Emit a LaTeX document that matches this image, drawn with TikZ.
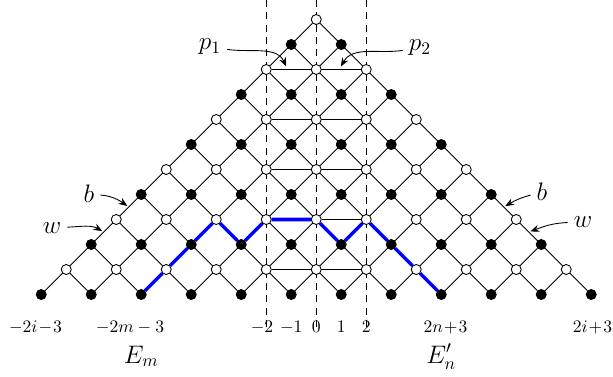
\documentclass[tikz,border=0pt]{standalone}
\usepackage{amsmath}
\usepackage{amssymb}
\usepackage{xcolor}
\usepackage{tikz}
\usetikzlibrary{arrows.meta, backgrounds}

\begin{document}
\begin{tikzpicture}[
  x=0.5cm, y=0.5cm,
  >={Stealth[length=5pt, width=4pt]},
  bdot/.style={circle, draw, line width=0.5pt, fill=black, inner sep=0pt, minimum size=2mm},
  wdot/.style={circle, draw, line width=0.5pt, fill=white, inner sep=0pt, minimum size=2mm},
  grid/.style={line width=0.5pt},
  guide/.style={dash pattern=on 4pt off 3pt, line width=0.5pt},
  bluepath/.style={blue, line width=2pt},
  pointer/.style={->, line width=0.5pt, shorten >=1pt},
  tag/.style={font=\Large},
  num/.style={anchor=base, font=\normalsize},
]

  \useasboundingbox (-12.65,-3.26) rectangle (11.87,11.78);

  % lattice points, row r has |k| <= 11-r
  \foreach \r in {0,...,11} {
    \pgfmathtruncatemacro\m{11-\r}
    \foreach \j in {0,...,\m} {
      \pgfmathtruncatemacro\k{2*\j-\m}
      \pgfmathtruncatemacro\c{\k+11}
      \ifodd\r
        \node[wdot] (n\c-\r) at (\k,\r) {};
      \else
        \node[bdot] (n\c-\r) at (\k,\r) {};
      \fi
    }
  }

  \begin{scope}[on background layer]
    \foreach \k in {-11,-9,...,9} {
      \pgfmathtruncatemacro\c{\k+11}
      \pgfmathtruncatemacro\ce{(\k+11)/2+11}
      \pgfmathtruncatemacro\re{(11-\k)/2}
      \draw[grid] (n\c-0) -- (n\ce-\re);
    }
    \foreach \k in {-9,-7,...,11} {
      \pgfmathtruncatemacro\c{\k+11}
      \pgfmathtruncatemacro\ce{(\k-11)/2+11}
      \pgfmathtruncatemacro\re{(\k+11)/2}
      \draw[grid] (n\c-0) -- (n\ce-\re);
    }
    \foreach \r in {1,5,7,9}
      \draw[grid] (n9-\r) -- (n13-\r);
    \draw[grid] (n11-3) -- (n13-3);
    \foreach \k in {-2,0,2}
      \draw[guide] (\k,11.78) -- (\k,-1.46);
  \end{scope}

  \draw[bluepath] (n4-0) -- (n5-1) -- (n6-2) -- (n7-3) -- (n8-2) -- (n9-3)
    -- (n11-3) -- (n12-2) -- (n13-3) -- (n14-2) -- (n15-1) -- (n16-0);

  \node[tag] (p1) at (-4.25,9.9) {$p_1$};
  \node[tag] (p2) at (4.15,9.86) {$p_2$};
  \node[tag] (bl) at (-9.09,4.02) {$b$};
  \node[tag] (wl) at (-10.57,2.66) {$w$};
  \node[tag] (br) at (9.03,4.1) {$b$};
  \node[tag] (wr) at (10.67,2.9) {$w$};
  \coordinate (p1t) at (-1.17,9.06);
  \coordinate (p2t) at (0.95,9.06);
  \coordinate (blt) at (-7.5,3.5);
  \coordinate (wlt) at (-8.5,2.5);
  \coordinate (brt) at (7.5,3.5);
  \coordinate (wrt) at (8.5,2.5);
  \draw[pointer] (p1) to[out=-8, in=115] (p1t);
  \draw[pointer] (p2) to[out=188, in=60] (p2t);
  \draw[pointer] (bl) to[out=-5, in=145] (blt);
  \draw[pointer] (wl) to[out=3, in=150] (wlt);
  \draw[pointer] (br) to[out=195, in=30] (brt);
  \draw[pointer] (wr) to[out=182, in=20] (wrt);

  \node[num] (l1) at (-11.23,-1.53) {$-2i\!-\!3$};
  \node[num] (l2) at (-7.45,-1.53) {$-2m-3$};
  \node[num] (l3) at (-2.17,-1.53) {$-2$};
  \node[num] (l4) at (-1,-1.53) {$-1$};
  \node[num] (l5) at (0,-1.53) {$0$};
  \node[num] (l6) at (1,-1.53) {$1$};
  \node[num] (l7) at (2,-1.53) {$2$};
  \node[num] (l8) at (5.17,-1.53) {$2n\!+\!3$};
  \node[num] (l9) at (11.05,-1.53) {$2i\!+\!3$};

  \node[tag, anchor=base] (em) at (-7,-2.74) {$E_m$};
  \node[tag, anchor=base] (en) at (5,-2.74) {$E'_n$};

\end{tikzpicture}
\end{document}
